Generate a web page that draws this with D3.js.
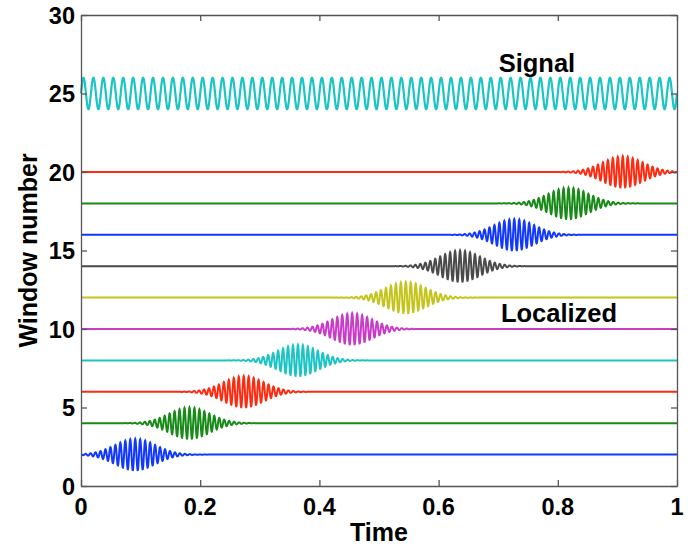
<!DOCTYPE html>
<html>
<head>
<meta charset="utf-8">
<script src="https://cdn.jsdelivr.net/npm/d3@7"></script>
<style>
    body { margin: 0; background: #fff; }
    .tick-label { font-family: "Liberation Sans", Arial, sans-serif; font-weight: bold; font-size: 23.5px; fill: #000; }
    .axis-label { font-family: "Liberation Sans", Arial, sans-serif; font-weight: bold; font-size: 25px; fill: #000; }
    .note { font-family: "Liberation Sans", Arial, sans-serif; font-weight: bold; font-size: 25.5px; fill: #000; }
</style>
</head>
<body>
<div id="chart"></div>
<script>
// chart values
var xTicks = [0, 0.2, 0.4, 0.6, 0.8, 1];
var yTicks = [0, 5, 10, 15, 20, 25, 30];

var signalLevel = 25;
var signalAmplitude = 1;
var signalCycles = 60;
var signalColor = "#1cc4c4";

var windowNumbers = [2, 4, 6, 8, 10, 12, 14, 16, 18, 20];
var windowCenters = [0.091, 0.182, 0.273, 0.364, 0.455, 0.545, 0.636, 0.727, 0.818, 0.909];
var windowColors = ["#1238ff", "#178a17", "#ff2a10", "#1cc4c4", "#c83cc8", "#c4c41c", "#4a4a4a",
                    "#1238ff", "#178a17", "#ff2a10"];
var windowAmplitude = 1;
var windowWidth = 0.034;
var windowCycles = 120;

var labels = [
    {text: "Signal", x: 0.765, y: 26.37},
    {text: "Localized", x: 0.802, y: 10.45}
];

(function() {
    var width = 689,
        height = 547;
    var margin = {top: 15, right: 12, bottom: 61, left: 81};
    var plotW = width - margin.left - margin.right,
        plotH = height - margin.top - margin.bottom;

    var svg = d3.select("#chart").append("svg")
        .attr("width", width)
        .attr("height", height);

    var plot = svg.append("g")
        .attr("transform", "translate(" + margin.left + "," + margin.top + ")");

    var xScale = d3.scaleLinear().domain([0, 1]).range([0, plotW]);
    var yScale = d3.scaleLinear().domain([0, 30]).range([plotH, 0]);

    plot.append("clipPath").attr("id", "clip")
        .append("rect").attr("width", plotW).attr("height", plotH);

    var line = d3.line()
        .x(function(d) { return xScale(d[0]); })
        .y(function(d) { return yScale(d[1]); });

    var n = 3000;
    var ts = d3.range(n + 1).map(function(i) { return i / n; });

    // localized windows
    windowNumbers.forEach(function(level, i) {
        var c = windowCenters[i];
        var pts = ts.map(function(t) {
            var env = Math.exp(-(t - c) * (t - c) / (2 * windowWidth * windowWidth));
            return [t, level + windowAmplitude * env * Math.sin(2 * Math.PI * windowCycles * (t - c) + Math.PI / 2)];
        });
        plot.append("path")
            .datum(pts)
            .attr("clip-path", "url(#clip)")
            .attr("fill", "none")
            .attr("stroke", windowColors[i])
            .attr("stroke-width", 2)
            .attr("d", line);
    });

    // full signal
    var sig = ts.map(function(t) {
        return [t, signalLevel + signalAmplitude * Math.sin(2 * Math.PI * signalCycles * t)];
    });
    plot.append("path")
        .datum(sig)
        .attr("fill", "none")
        .attr("stroke", signalColor)
        .attr("stroke-width", 2.2)
        .attr("d", line);

    // box + inner ticks
    var xAxisB = d3.axisBottom(xScale).tickValues(xTicks).tickSizeInner(-6).tickSizeOuter(0).tickFormat("");
    var xAxisT = d3.axisTop(xScale).tickValues(xTicks).tickSizeInner(-6).tickSizeOuter(0).tickFormat("");
    var yAxisL = d3.axisLeft(yScale).tickValues(yTicks).tickSizeInner(-6).tickSizeOuter(0).tickFormat("");
    var yAxisR = d3.axisRight(yScale).tickValues(yTicks).tickSizeInner(-6).tickSizeOuter(0).tickFormat("");

    plot.append("g").attr("transform", "translate(0," + plotH + ")").call(xAxisB);
    plot.append("g").call(xAxisT);
    plot.append("g").call(yAxisL);
    plot.append("g").attr("transform", "translate(" + plotW + ",0)").call(yAxisR);
    plot.selectAll(".domain, .tick line").attr("stroke", "#555").attr("stroke-width", 1.3);

    // tick labels
    plot.selectAll(".xlab").data(xTicks).enter().append("text")
        .attr("class", "tick-label")
        .attr("x", function(d) { return xScale(d); })
        .attr("y", plotH + 29)
        .attr("text-anchor", "middle")
        .text(function(d) { return d3.format("")(d); });

    plot.selectAll(".ylab").data(yTicks).enter().append("text")
        .attr("class", "tick-label")
        .attr("x", -6)
        .attr("y", function(d) { return yScale(d) + 8.5; })
        .attr("text-anchor", "end")
        .text(function(d) { return d; });

    plot.append("text")
        .attr("class", "axis-label")
        .attr("x", plotW / 2)
        .attr("y", plotH + 55)
        .attr("text-anchor", "middle")
        .text("Time");

    plot.append("text")
        .attr("class", "axis-label")
        .attr("transform", "translate(" + (-44) + "," + (plotH / 2) + ") rotate(-90)")
        .attr("text-anchor", "middle")
        .text("Window number");

    plot.selectAll(".note").data(labels).enter().append("text")
        .attr("class", "note")
        .attr("x", function(d) { return xScale(d.x); })
        .attr("y", function(d) { return yScale(d.y); })
        .attr("text-anchor", "middle")
        .text(function(d) { return d.text; });
})();
</script>
</body>
</html>
